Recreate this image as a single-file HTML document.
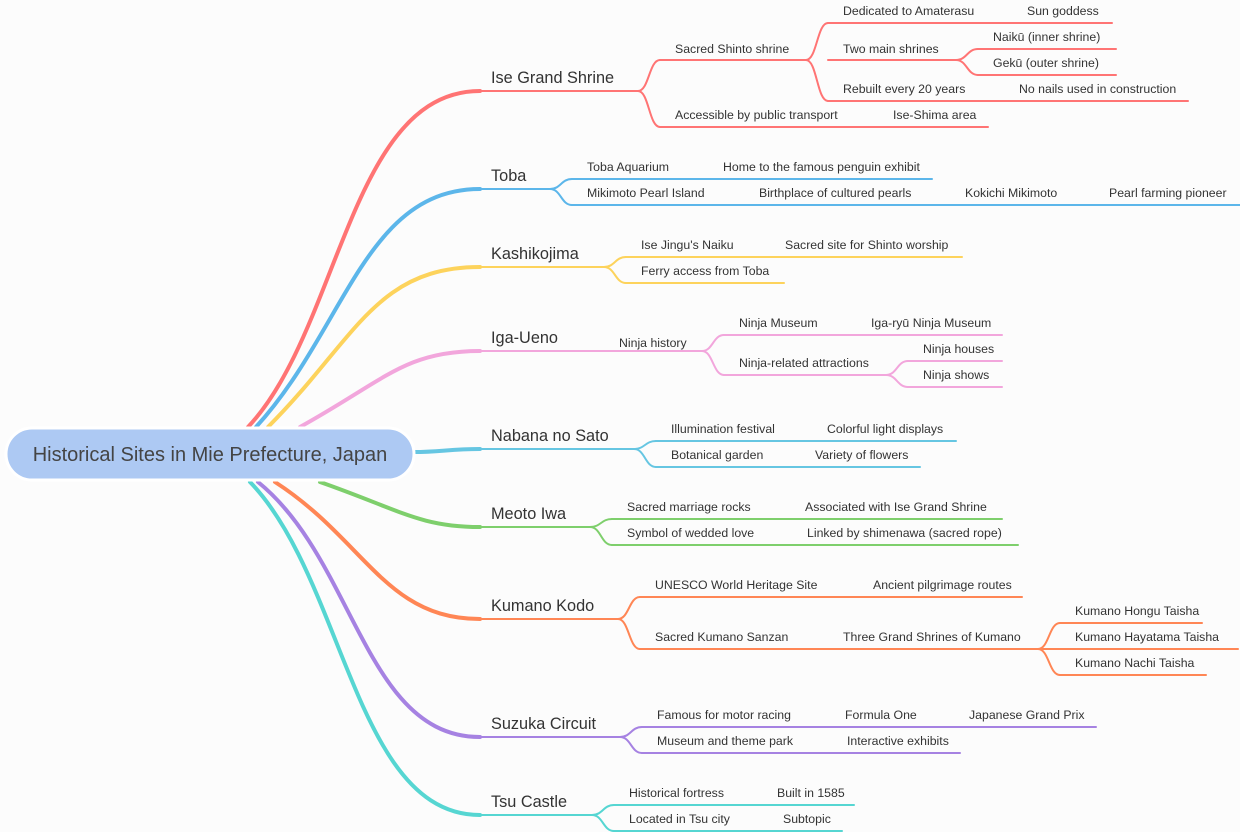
<!DOCTYPE html>
<html><head><meta charset="utf-8"><style>
html,body{margin:0;padding:0;background:#fcfcfc;}
svg{display:block;font-family:"Liberation Sans",Arial,sans-serif;}
.s{font-size:12.3px;fill:#333;}
.b{font-size:16.3px;fill:#333;}
path,line{fill:none;stroke-linecap:round;}
</style></head><body>
<svg width="1240" height="832" viewBox="0 0 1240 832" xmlns="http://www.w3.org/2000/svg">
<g stroke-width="4">
<path stroke="#ff7474" d="M248,427 C340,330 350,91 480,91"/>
<path stroke="#5cb6ea" d="M256,427 C345,330 365,189 480,189"/>
<path stroke="#fdd35c" d="M268,427 C355,340 375,267 480,267"/>
<path stroke="#f2a6dc" d="M300,427 C385,380 405,351 480,351"/>
<path stroke="#66c6e2" d="M414,452 C440,452 450,449 480,449"/>
<path stroke="#7ecf6c" d="M320,482 C400,510 420,527 480,527"/>
<path stroke="#ff8655" d="M275,482 C365,540 385,619 480,619"/>
<path stroke="#a682e2" d="M258,482 C355,560 365,737 480,737"/>
<path stroke="#56d6d2" d="M250,482 C345,580 355,815 480,815"/>
</g>
<rect x="6" y="428" width="408" height="52" rx="26" fill="#adc9f3" stroke="#fff" stroke-width="3"/>
<text x="210" y="461" text-anchor="middle" style="font-size:20px;fill:#444">Historical Sites in Mie Prefecture, Japan</text>

<g stroke-width="2">
<g stroke="#ff7474">
<line x1="480" y1="91" x2="638" y2="91"/>
<path d="M638,91 C649,91 649,60 660,60"/><line x1="660" y1="60" x2="806" y2="60"/>
<path d="M638,91 C649,91 649,127 660,127"/><line x1="660" y1="127" x2="856" y2="127"/>
<line x1="856" y1="127" x2="988" y2="127"/>
<path d="M806,60 C817,60 817,23 828,23"/><line x1="828" y1="23" x2="1112" y2="23"/>
<line x1="828" y1="60" x2="956" y2="60"/>
<path d="M806,60 C817,60 817,101 828,101"/><line x1="828" y1="101" x2="1188" y2="101"/>
<path d="M956,60 C967,60 967,49 978,49"/><line x1="978" y1="49" x2="1116" y2="49"/>
<path d="M956,60 C967,60 967,75 978,75"/><line x1="978" y1="75" x2="1116" y2="75"/>
</g>
<g stroke="#5cb6ea">
<line x1="480" y1="189" x2="550" y2="189"/>
<path d="M550,189 C561,189 561,179 572,179"/><line x1="572" y1="179" x2="932" y2="179"/>
<path d="M550,189 C561,189 561,205 572,205"/><line x1="572" y1="205" x2="1240" y2="205"/>
</g>
<g stroke="#fdd35c">
<line x1="480" y1="267" x2="604" y2="267"/>
<path d="M604,267 C615,267 615,257 626,257"/><line x1="626" y1="257" x2="962" y2="257"/>
<path d="M604,267 C615,267 615,283 626,283"/><line x1="626" y1="283" x2="784" y2="283"/>
</g>
<g stroke="#f2a6dc">
<line x1="480" y1="351" x2="702" y2="351"/>
<path d="M702,351 C713,351 713,335 724,335"/><line x1="724" y1="335" x2="1002" y2="335"/>
<path d="M702,351 C713,351 713,375 724,375"/><line x1="724" y1="375" x2="886" y2="375"/>
<path d="M886,375 C897,375 897,361 908,361"/><line x1="908" y1="361" x2="1002" y2="361"/>
<path d="M886,375 C897,375 897,387 908,387"/><line x1="908" y1="387" x2="1002" y2="387"/>
</g>
<g stroke="#66c6e2">
<line x1="480" y1="449" x2="634" y2="449"/>
<path d="M634,449 C645,449 645,441 656,441"/><line x1="656" y1="441" x2="956" y2="441"/>
<path d="M634,449 C645,449 645,467 656,467"/><line x1="656" y1="467" x2="920" y2="467"/>
</g>
<g stroke="#7ecf6c">
<line x1="480" y1="527" x2="590" y2="527"/>
<path d="M590,527 C601,527 601,519 612,519"/><line x1="612" y1="519" x2="1002" y2="519"/>
<path d="M590,527 C601,527 601,545 612,545"/><line x1="612" y1="545" x2="1018" y2="545"/>
</g>
<g stroke="#ff8655">
<line x1="480" y1="619" x2="618" y2="619"/>
<path d="M618,619 C629,619 629,597 640,597"/><line x1="640" y1="597" x2="1022" y2="597"/>
<path d="M618,619 C629,619 629,649 640,649"/><line x1="640" y1="649" x2="1038" y2="649"/>
<path d="M1038,649 C1049,649 1049,623 1060,623"/><line x1="1060" y1="623" x2="1202" y2="623"/>
<line x1="1038" y1="649" x2="1238" y2="649"/>
<path d="M1038,649 C1049,649 1049,675 1060,675"/><line x1="1060" y1="675" x2="1206" y2="675"/>
</g>
<g stroke="#a682e2">
<line x1="480" y1="737" x2="620" y2="737"/>
<path d="M620,737 C631,737 631,727 642,727"/><line x1="642" y1="727" x2="1096" y2="727"/>
<path d="M620,737 C631,737 631,753 642,753"/><line x1="642" y1="753" x2="960" y2="753"/>
</g>
<g stroke="#56d6d2">
<line x1="480" y1="815" x2="592" y2="815"/>
<path d="M592,815 C603,815 603,805 614,805"/><line x1="614" y1="805" x2="854" y2="805"/>
<path d="M592,815 C603,815 603,831 614,831"/><line x1="614" y1="831" x2="842" y2="831"/>
</g>
</g>

<g class="b">
<text x="491" y="83">Ise Grand Shrine</text>
<text x="491" y="181">Toba</text>
<text x="491" y="259">Kashikojima</text>
<text x="491" y="343">Iga-Ueno</text>
<text x="491" y="441">Nabana no Sato</text>
<text x="491" y="519">Meoto Iwa</text>
<text x="491" y="611">Kumano Kodo</text>
<text x="491" y="729">Suzuka Circuit</text>
<text x="491" y="807">Tsu Castle</text>
</g>
<g class="s">
<text x="675" y="53">Sacred Shinto shrine</text>
<text x="843" y="15">Dedicated to Amaterasu</text>
<text x="1027" y="15">Sun goddess</text>
<text x="843" y="53">Two main shrines</text>
<text x="993" y="41">Naikū (inner shrine)</text>
<text x="993" y="67">Gekū (outer shrine)</text>
<text x="843" y="93">Rebuilt every 20 years</text>
<text x="1019" y="93">No nails used in construction</text>
<text x="675" y="119">Accessible by public transport</text>
<text x="893" y="119">Ise-Shima area</text>

<text x="587" y="171">Toba Aquarium</text>
<text x="723" y="171">Home to the famous penguin exhibit</text>
<text x="587" y="197">Mikimoto Pearl Island</text>
<text x="759" y="197">Birthplace of cultured pearls</text>
<text x="965" y="197">Kokichi Mikimoto</text>
<text x="1109" y="197">Pearl farming pioneer</text>

<text x="641" y="249">Ise Jingu's Naiku</text>
<text x="785" y="249">Sacred site for Shinto worship</text>
<text x="641" y="275">Ferry access from Toba</text>

<text x="619" y="347">Ninja history</text>
<text x="739" y="327">Ninja Museum</text>
<text x="871" y="327">Iga-ryū Ninja Museum</text>
<text x="739" y="367">Ninja-related attractions</text>
<text x="923" y="353">Ninja houses</text>
<text x="923" y="379">Ninja shows</text>

<text x="671" y="433">Illumination festival</text>
<text x="827" y="433">Colorful light displays</text>
<text x="671" y="459">Botanical garden</text>
<text x="815" y="459">Variety of flowers</text>

<text x="627" y="511">Sacred marriage rocks</text>
<text x="805" y="511">Associated with Ise Grand Shrine</text>
<text x="627" y="537">Symbol of wedded love</text>
<text x="807" y="537">Linked by shimenawa (sacred rope)</text>

<text x="655" y="589">UNESCO World Heritage Site</text>
<text x="873" y="589">Ancient pilgrimage routes</text>
<text x="655" y="641">Sacred Kumano Sanzan</text>
<text x="843" y="641">Three Grand Shrines of Kumano</text>
<text x="1075" y="615">Kumano Hongu Taisha</text>
<text x="1075" y="641">Kumano Hayatama Taisha</text>
<text x="1075" y="667">Kumano Nachi Taisha</text>

<text x="657" y="719">Famous for motor racing</text>
<text x="845" y="719">Formula One</text>
<text x="969" y="719">Japanese Grand Prix</text>
<text x="657" y="745">Museum and theme park</text>
<text x="847" y="745">Interactive exhibits</text>

<text x="629" y="797">Historical fortress</text>
<text x="777" y="797">Built in 1585</text>
<text x="629" y="823">Located in Tsu city</text>
<text x="783" y="823">Subtopic</text>
</g>
</svg>
</body></html>
